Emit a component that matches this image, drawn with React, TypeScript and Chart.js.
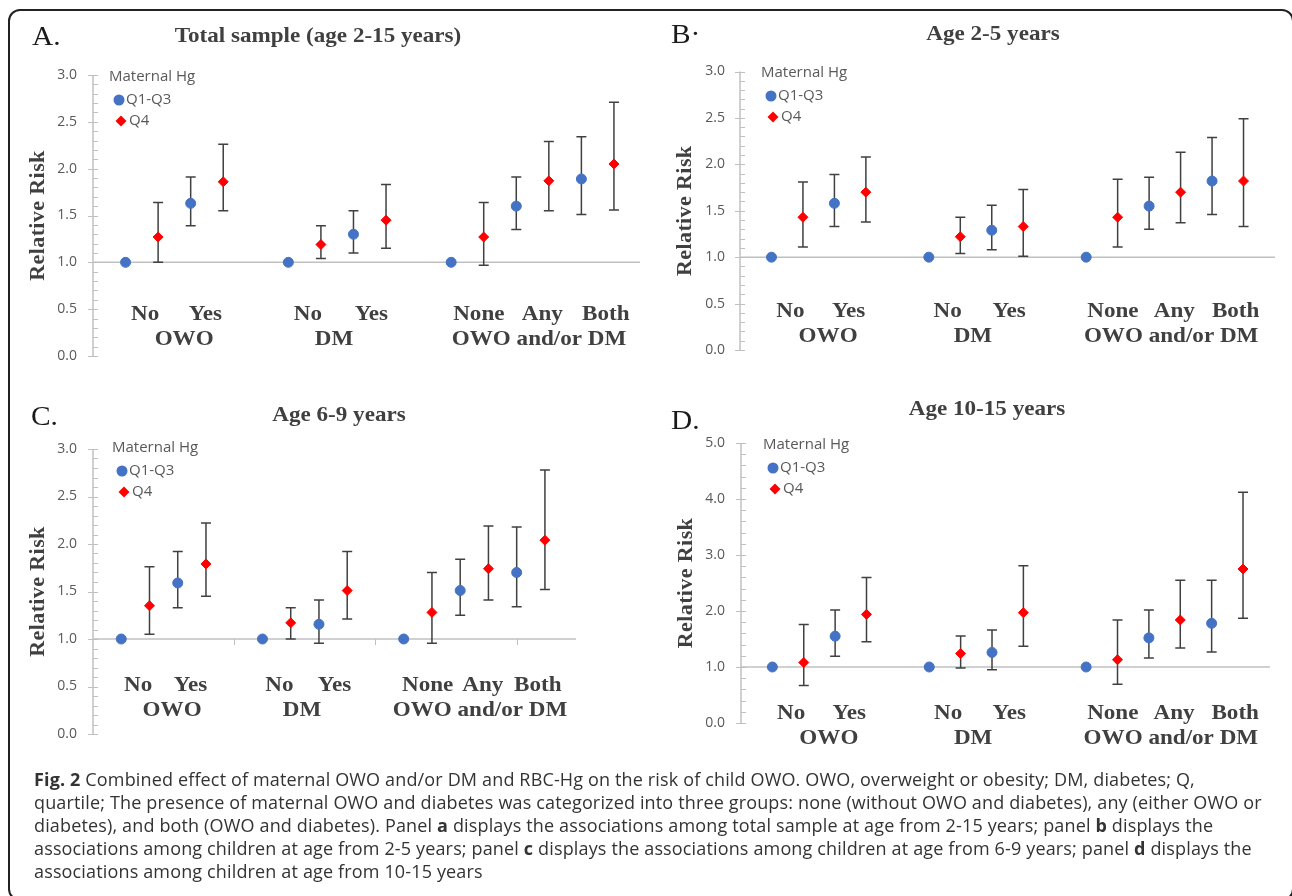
import React, { useEffect, useRef } from "react";
import { Chart, registerables } from "chart.js";
Chart.register(...registerables);

// ---------- data ----------
const categories = ["No", "Yes", "No", "Yes", "None", "Any", "Both"];
const groupNames = ["OWO", "DM", "OWO and/or DM"];
const groupSizes = [2, 2, 3];
const seriesNames = ["Q1-Q3", "Q4"];
const legendTitle = "Maternal Hg";

// Panel A: total sample (age 2-15)
const aQ13 = [1.0, 1.63, 1.0, 1.3, 1.0, 1.6, 1.89];
const aQ13Lo = [null, 1.39, null, 1.1, null, 1.35, 1.51];
const aQ13Hi = [null, 1.91, null, 1.55, null, 1.91, 2.34];
const aQ4 = [1.27, 1.86, 1.19, 1.45, 1.27, 1.87, 2.05];
const aQ4Lo = [1.0, 1.55, 1.04, 1.15, 0.97, 1.55, 1.56];
const aQ4Hi = [1.64, 2.26, 1.39, 1.83, 1.64, 2.29, 2.71];

// Panel B: age 2-5
const bQ13 = [1.0, 1.58, 1.0, 1.29, 1.0, 1.55, 1.82];
const bQ13Lo = [null, 1.33, null, 1.08, null, 1.3, 1.46];
const bQ13Hi = [null, 1.89, null, 1.56, null, 1.86, 2.29];
const bQ4 = [1.43, 1.7, 1.22, 1.33, 1.43, 1.7, 1.82];
const bQ4Lo = [1.11, 1.38, 1.04, 1.01, 1.11, 1.37, 1.33];
const bQ4Hi = [1.81, 2.08, 1.43, 1.73, 1.84, 2.13, 2.49];

// Panel C: age 6-9
const cQ13 = [1.0, 1.59, 1.0, 1.155, 1.0, 1.51, 1.7];
const cQ13Lo = [null, 1.33, null, 0.955, null, 1.25, 1.34];
const cQ13Hi = [null, 1.92, null, 1.41, null, 1.84, 2.18];
const cQ4 = [1.35, 1.79, 1.17, 1.51, 1.28, 1.74, 2.04];
const cQ4Lo = [1.05, 1.45, 1.0, 1.21, 0.955, 1.41, 1.52];
const cQ4Hi = [1.76, 2.22, 1.33, 1.92, 1.7, 2.19, 2.78];

// Panel D: age 10-15
const dQ13 = [1.0, 1.55, 1.0, 1.26, 1.0, 1.52, 1.78];
const dQ13Lo = [null, 1.19, null, 0.95, null, 1.16, 1.27];
const dQ13Hi = [null, 2.02, null, 1.66, null, 2.02, 2.55];
const dQ4 = [1.08, 1.94, 1.24, 1.97, 1.13, 1.84, 2.75];
const dQ4Lo = [0.67, 1.45, 0.98, 1.37, 0.69, 1.34, 1.87];
const dQ4Hi = [1.76, 2.6, 1.555, 2.81, 1.84, 2.55, 4.12];

const referenceValue = 1.0;

// ---------- styles / layout ----------
const BLUE = "#4472C4";
const RED = "#FF0000";
const AXIS = "#c0c0c0";
const BAR = "#404040";
const TEXT = "#404040";
const SERIF = "'Liberation Serif', 'Times New Roman', serif";
const SANS = "'Open Sans', 'Noto Sans', sans-serif";
const STRETCH = 1.1;

// label shifts (in slot units) relative to the Q1-Q3 slot / group centre
const catShift = [0.6, 0.45, 0.6, 0.55, 0.85, 0.8, 0.75];
const groupShift = [0.3, -0.1, 0.2];

type Layout = {
  canvas: number[];
  area: number[];
  xMax: number;
  yMax: number;
  major: number;
  minor: number;
  labelPad: number;
  title: number[];
  letter: number[];
  legend: number[];
  catY: number;
  groupY: number;
  xTicks: number[];
};

const panels = [
  {
    letter: "A.", title: "Total sample (age 2-15 years)",
    q13: aQ13, q13Lo: aQ13Lo, q13Hi: aQ13Hi, q4: aQ4, q4Lo: aQ4Lo, q4Hi: aQ4Hi,
    layout: { canvas: [0, 0, 646, 385], area: [93, 75, 642, 356], xMax: 15.8, yMax: 3, major: 0.5, minor: 0.1, labelPad: 16,
      title: [318, 37], letter: [32, 38], legend: [109, 77], catY: 315, groupY: 340, xTicks: [] } as Layout,
  },
  {
    letter: "B·", title: "Age 2-5 years",
    q13: bQ13, q13Lo: bQ13Lo, q13Hi: bQ13Hi, q4: bQ4, q4Lo: bQ4Lo, q4Hi: bQ4Hi,
    layout: { canvas: [646, 0, 646, 385], area: [740, 71.5, 1275, 350], xMax: 16, yMax: 3, major: 0.5, minor: 0.1, labelPad: 15,
      title: [993, 35], letter: [671, 36], legend: [761, 73], catY: 312, groupY: 337, xTicks: [] } as Layout,
  },
  {
    letter: "C.", title: "Age 6-9 years",
    q13: cQ13, q13Lo: cQ13Lo, q13Hi: cQ13Hi, q4: cQ4, q4Lo: cQ4Lo, q4Hi: cQ4Hi,
    layout: { canvas: [0, 385, 646, 385], area: [93, 449, 576, 734], xMax: 16.1, yMax: 3, major: 0.5, minor: 0.1, labelPad: 16,
      title: [339, 416], letter: [31, 418], legend: [112, 448], catY: 686, groupY: 711, xTicks: [4, 9, 14] } as Layout,
  },
  {
    letter: "D.", title: "Age 10-15 years",
    q13: dQ13, q13Lo: dQ13Lo, q13Hi: dQ13Hi, q4: dQ4, q4Lo: dQ4Lo, q4Hi: dQ4Hi,
    layout: { canvas: [646, 385, 646, 385], area: [741, 443, 1270, 723], xMax: 15.86, yMax: 5, major: 1, minor: 0.2, labelPad: 16,
      title: [987, 410], letter: [671, 422], legend: [763, 445], catY: 714, groupY: 739, xTicks: [] } as Layout,
  },
];

// slot positions derived from the category/group structure (gap of one slot between groups)
function buildSlots() {
  const blue: number[] = [];
  const groupCentre: number[] = [];
  let start = 0;
  groupSizes.forEach((n) => {
    for (let j = 0; j < n; j++) blue.push(start + 2 * j);
    groupCentre.push(start + (2 * n - 1) / 2);
    start += 2 * n + 1;
  });
  return { blue, red: blue.map((b) => b + 1), groupCentre };
}
const SLOTS = buildSlots();

function drawText(ctx: CanvasRenderingContext2D, text: string, x: number, y: number, font: string, color: string, align: CanvasTextAlign, sx = 1) {
  ctx.save();
  ctx.font = font;
  ctx.fillStyle = color;
  ctx.textAlign = align;
  ctx.textBaseline = "middle";
  ctx.translate(x, y);
  ctx.scale(sx, 1);
  ctx.fillText(text, 0, 0);
  ctx.restore();
}

function makePlugin(panel: any) {
  const L: Layout = panel.layout;
  const ox = L.canvas[0];
  const oy = L.canvas[1];
  return {
    id: "panelDecor",
    beforeDatasetsDraw(chart: any) {
      const { ctx, chartArea, scales } = chart;
      const { left, right, top, bottom } = chartArea;
      const y = scales.y;
      const x = scales.x;
      ctx.save();
      ctx.strokeStyle = AXIS;
      ctx.lineWidth = 1.5;
      // axis line
      ctx.beginPath();
      ctx.moveTo(left, top);
      ctx.lineTo(left, bottom);
      ctx.stroke();
      // tick marks
      const n = Math.round(L.yMax / L.minor);
      const per = Math.round(L.major / L.minor);
      ctx.lineWidth = 1;
      for (let k = 0; k <= n; k++) {
        const py = Math.round(y.getPixelForValue(k * L.minor)) + 0.5;
        const major = k % per === 0;
        ctx.beginPath();
        ctx.moveTo(major ? left - 5 : left, py);
        ctx.lineTo(left + 5, py);
        ctx.stroke();
      }
      // reference line
      const py1 = y.getPixelForValue(referenceValue);
      ctx.lineWidth = 1.5;
      ctx.beginPath();
      ctx.moveTo(left, py1);
      ctx.lineTo(right, py1);
      ctx.stroke();
      ctx.lineWidth = 1;
      L.xTicks.forEach((s) => {
        const px = Math.round(x.getPixelForValue(s)) + 0.5;
        ctx.beginPath();
        ctx.moveTo(px, py1);
        ctx.lineTo(px, py1 + 6);
        ctx.stroke();
      });
      // error bars
      ctx.strokeStyle = BAR;
      ctx.lineWidth = 1.5;
      chart.data.datasets.forEach((ds: any, di: number) => {
        const meta = chart.getDatasetMeta(di);
        ds.data.forEach((_: any, j: number) => {
          const lo = ds.errLo[j];
          const hi = ds.errHi[j];
          if (lo == null || hi == null) return;
          const px = meta.data[j].x;
          const yl = y.getPixelForValue(lo);
          const yh = y.getPixelForValue(hi);
          ctx.beginPath();
          ctx.moveTo(px, yl);
          ctx.lineTo(px, yh);
          ctx.moveTo(px - 5, yl);
          ctx.lineTo(px + 5, yl);
          ctx.moveTo(px - 5, yh);
          ctx.lineTo(px + 5, yh);
          ctx.stroke();
        });
      });
      ctx.restore();
    },
    afterDatasetsDraw(chart: any) {
      const { ctx, chartArea, scales } = chart;
      const x = scales.x;
      const boldSerif = (s: number) => `bold ${s}px ${SERIF}`;
      // panel letter & title
      drawText(ctx, panel.letter, L.letter[0] - ox, L.letter[1] - oy, `28px ${SERIF}`, "#1a1a1a", "left", 1.05);
      drawText(ctx, panel.title, L.title[0] - ox, L.title[1] - oy, boldSerif(21), TEXT, "center", STRETCH);
      // y axis title
      ctx.save();
      ctx.translate(chartArea.left - 55, (chartArea.top + chartArea.bottom) / 2);
      ctx.rotate(-Math.PI / 2);
      ctx.font = boldSerif(22);
      (ctx as any).letterSpacing = "0.4px";
      ctx.fillStyle = TEXT;
      ctx.textAlign = "center";
      ctx.textBaseline = "middle";
      ctx.fillText("Relative Risk", 0, 0);
      ctx.restore();
      // legend
      const lx = L.legend[0] - ox;
      const ly = L.legend[1] - oy;
      drawText(ctx, legendTitle, lx, ly, `15px ${SANS}`, "#595959", "left");
      ctx.save();
      ctx.fillStyle = BLUE;
      ctx.beginPath();
      ctx.arc(lx + 10, ly + 23, 5.5, 0, Math.PI * 2);
      ctx.fill();
      ctx.fillStyle = RED;
      ctx.beginPath();
      const dx = lx + 12, dy = ly + 44, r = 5.5;
      ctx.moveTo(dx - r, dy);
      ctx.lineTo(dx, dy - r);
      ctx.lineTo(dx + r, dy);
      ctx.lineTo(dx, dy + r);
      ctx.closePath();
      ctx.fill();
      ctx.restore();
      drawText(ctx, seriesNames[0], lx + 17, ly + 23, `15px ${SANS}`, "#595959", "left");
      drawText(ctx, seriesNames[1], lx + 20, ly + 44, `15px ${SANS}`, "#595959", "left");
      // category & group labels
      categories.forEach((c, i) => {
        const px = x.getPixelForValue(SLOTS.blue[i] + catShift[i]);
        drawText(ctx, c, px, L.catY - oy, boldSerif(21), TEXT, "center", STRETCH);
      });
      groupNames.forEach((g, i) => {
        const px = x.getPixelForValue(SLOTS.groupCentre[i] + groupShift[i]);
        drawText(ctx, g, px, L.groupY - oy, boldSerif(21), TEXT, "center", STRETCH);
      });
    },
  };
}

function Panel({ panel }: { panel: any }) {
  const ref = useRef<HTMLCanvasElement>(null);
  const L: Layout = panel.layout;
  const [cx, cy, cw, ch] = L.canvas;
  useEffect(() => {
    const [al, at, ar, ab] = L.area;
    const chart = new Chart(ref.current as HTMLCanvasElement, {
      type: "scatter",
      data: {
        datasets: [
          {
            label: seriesNames[0],
            data: panel.q13.map((v: number, i: number) => ({ x: SLOTS.blue[i], y: v })),
            errLo: panel.q13Lo,
            errHi: panel.q13Hi,
            pointStyle: "circle",
            pointRadius: 5,
            backgroundColor: BLUE,
            borderColor: BLUE,
            borderWidth: 1,
          } as any,
          {
            label: seriesNames[1],
            data: panel.q4.map((v: number, i: number) => ({ x: SLOTS.red[i], y: v })),
            errLo: panel.q4Lo,
            errHi: panel.q4Hi,
            pointStyle: "rectRot",
            pointRadius: 5,
            backgroundColor: RED,
            borderColor: RED,
            borderWidth: 1,
          } as any,
        ],
      },
      options: {
        animation: false,
        responsive: false,
        maintainAspectRatio: false,
        layout: { padding: { left: 0, top: at - cy, right: cx + cw - ar, bottom: cy + ch - ab } },
        plugins: { legend: { display: false }, tooltip: { enabled: false }, title: { display: false } },
        scales: {
          x: { type: "linear", display: false, min: -1, max: L.xMax },
          y: {
            type: "linear",
            min: 0,
            max: L.yMax,
            afterFit: (s: any) => {
              s.width = al - cx;
            },
            grid: { display: false, drawTicks: false },
            border: { display: false },
            ticks: {
              stepSize: L.major,
              padding: L.labelPad,
              color: "#595959",
              font: { family: SANS, size: 14 },
              callback: (v: any) => Number(v).toFixed(1),
            },
          },
        },
      } as any,
      plugins: [makePlugin(panel)],
    });
    return () => chart.destroy();
  }, []);
  return (
    <canvas
      ref={ref}
      width={cw}
      height={ch}
      style={{ position: "absolute", left: cx, top: cy, width: cw, height: ch }}
    />
  );
}

const captionLines: { t: string; b?: boolean }[][] = [
  [{ t: "Fig. 2", b: true }, { t: " Combined effect of maternal OWO and/or DM and RBC-Hg on the risk of child OWO. OWO, overweight or obesity; DM, diabetes; Q," }],
  [{ t: "quartile; The presence of maternal OWO and diabetes was categorized into three groups: none (without OWO and diabetes), any (either OWO or" }],
  [{ t: "diabetes), and both (OWO and diabetes). Panel " }, { t: "a", b: true }, { t: " displays the associations among total sample at age from 2-15 years; panel " }, { t: "b", b: true }, { t: " displays the" }],
  [{ t: "associations among children at age from 2-5 years; panel " }, { t: "c", b: true }, { t: " displays the associations among children at age from 6-9 years; panel " }, { t: "d", b: true }, { t: " displays the" }],
  [{ t: "associations among children at age from 10-15 years" }],
];

export default function App() {
  return (
    <div style={{ position: "absolute", left: 0, top: 0, width: 1292, height: 896, overflow: "hidden", background: "#fff" }}>
      {panels.map((p, i) => (
        <Panel key={i} panel={p} />
      ))}
      <div
        style={{
          position: "absolute",
          left: 8,
          top: 9,
          width: 1286,
          height: 892,
          border: "2px solid #222",
          borderRadius: 12,
          boxSizing: "border-box",
          pointerEvents: "none",
        }}
      />
      <div
        style={{
          position: "absolute",
          left: 34,
          top: 768,
          fontFamily: SANS,
          fontSize: 18,
          lineHeight: "23px",
          color: "#333",
          letterSpacing: "0.15px",
        }}
      >
        {captionLines.map((line, i) => (
          <div key={i} style={{ whiteSpace: "nowrap" }}>
            {line.map((s, j) => (
              <span key={j} style={{ fontWeight: s.b ? 700 : 400 }}>
                {s.t}
              </span>
            ))}
          </div>
        ))}
      </div>
    </div>
  );
}
